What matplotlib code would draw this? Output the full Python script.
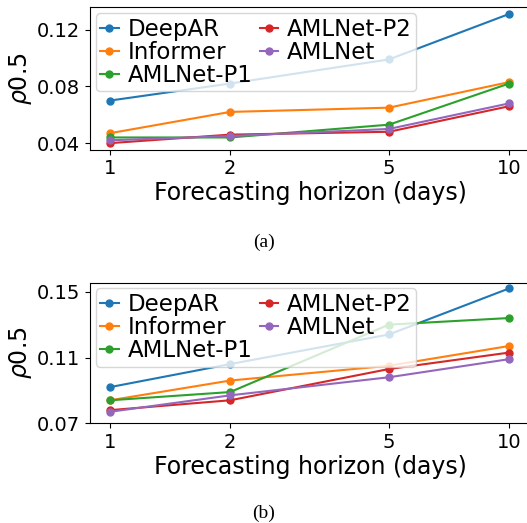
import matplotlib.pyplot as plt
import numpy as np

horizon = [1, 2, 5, 10]
names = ['DeepAR', 'Informer', 'AMLNet-P1', 'AMLNet-P2', 'AMLNet']

# panel (a)
a_deepar = [0.070, 0.082, 0.099, 0.131]
a_informer = [0.047, 0.062, 0.065, 0.083]
a_p1 = [0.044, 0.044, 0.053, 0.082]
a_p2 = [0.040, 0.046, 0.048, 0.066]
a_amlnet = [0.042, 0.045, 0.050, 0.068]

# panel (b)
b_deepar = [0.092, 0.106, 0.124, 0.152]
b_informer = [0.084, 0.096, 0.105, 0.117]
b_p1 = [0.084, 0.089, 0.130, 0.134]
b_p2 = [0.078, 0.084, 0.103, 0.113]
b_amlnet = [0.077, 0.087, 0.098, 0.109]

a_ticks = [0.04, 0.08, 0.12]
b_ticks = [0.07, 0.11, 0.15]

fig = plt.figure(figsize=(5.27, 5.23), dpi=100)
ax1 = fig.add_axes([0.1708, 0.7141, 0.8368, 0.2716])
ax2 = fig.add_axes([0.1708, 0.1906, 0.8368, 0.2689])

def draw(ax, series, yticks, ylim):
    for name, vals in zip(names, series):
        ax.plot(horizon, vals, marker='o', markersize=5, label=name)
    ax.set_xscale('log')
    ax.set_xticks(horizon)
    ax.set_xticklabels([str(h) for h in horizon])
    ax.minorticks_off()
    ax.set_xlim(10 ** -0.05, 10 ** 1.055)
    ax.set_ylim(ylim)
    ax.set_yticks(yticks)
    ax.set_yticklabels(['%.2f' % t for t in yticks])
    ax.tick_params(labelsize=14)
    ax.set_xlabel('Forecasting horizon (days)', fontsize=17, labelpad=2)
    ax.set_ylabel(r'$\rho$0.5', fontsize=17, labelpad=2)
    ax.legend(ncol=2, loc='upper left', fontsize=16.5, handlelength=0.8,
              handletextpad=0.4, columnspacing=0.3, labelspacing=0.0,
              borderpad=0.2, borderaxespad=0.25)

draw(ax1, [a_deepar, a_informer, a_p1, a_p2, a_amlnet], a_ticks, (0.0355, 0.1356))
draw(ax2, [b_deepar, b_informer, b_p1, b_p2, b_amlnet], b_ticks, (0.07, 0.1555))

fig.text(0.5, 1 - 242 / 523, '(a)', ha='center', va='center',
         family='Liberation Serif', fontsize=14)
fig.text(0.5, 1 - 513 / 523, '(b)', ha='center', va='center',
         family='Liberation Serif', fontsize=14)

fig.savefig('out.png', dpi=100)
